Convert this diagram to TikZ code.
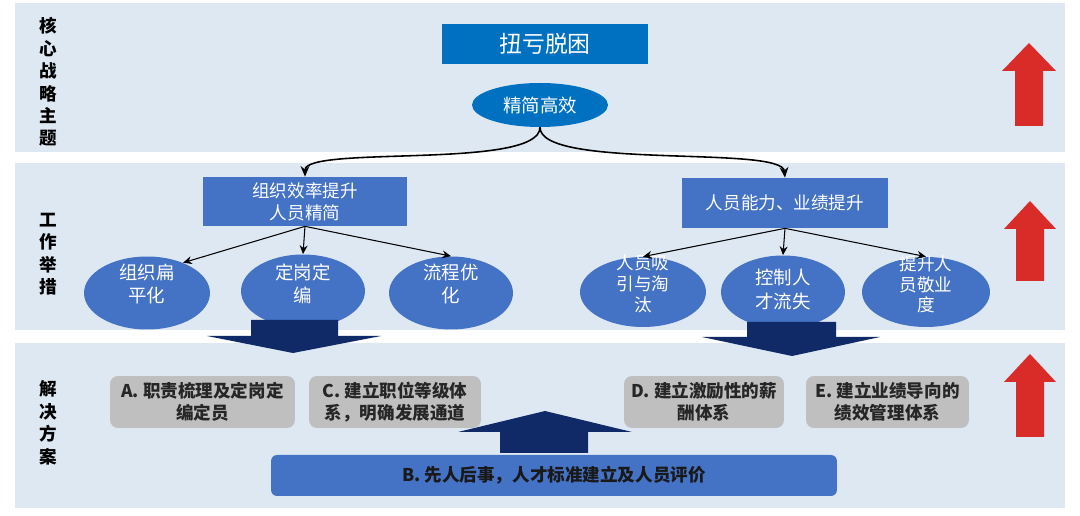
\documentclass[tikz,border=0pt]{standalone}
\usepackage{fontspec}
\setmainfont{Noto Sans CJK SC}
\usetikzlibrary{shapes.geometric,arrows.meta}
\definecolor{panelbg}{HTML}{DEE8F3}
\definecolor{topblue}{HTML}{0070C0}
\definecolor{midblue}{HTML}{4472C4}
\definecolor{navy}{HTML}{0F2A66}
\definecolor{grayfill}{HTML}{BFBFBF}
\definecolor{redarr}{HTML}{D92B27}
\definecolor{darktext}{HTML}{262626}
\tikzset{
  panel/.style={fill=panelbg, draw=none},
  sidelabel/.style={align=center, text=black, font=\bfseries\fontsize{10}{12.8}\selectfont},
  titlebox/.style={fill=topblue, text=white, minimum width=4.12cm, minimum height=0.8cm, inner sep=0pt, font=\fontsize{13}{15}\selectfont},
  topell/.style={ellipse, fill=topblue, text=white, minimum width=2.72cm, minimum height=0.88cm, inner sep=0pt, font=\fontsize{10.5}{12}\selectfont},
  bluebox/.style={fill=midblue, text=white, inner sep=0pt, align=center, font=\fontsize{10}{12.6}\selectfont},
  subell/.style={ellipse, fill=midblue, minimum width=2.52cm, minimum height=1.46cm, inner sep=0pt},
  twoline/.style={text=white, align=center, inner sep=0pt, font=\fontsize{10.5}{13.5}\selectfont},
  threeline/.style={text=white, align=center, inner sep=0pt, font=\fontsize{10}{11.8}\selectfont},
  graybox/.style={fill=grayfill, rounded corners=0.16cm, text=darktext, minimum width=3.5cm, minimum height=1.04cm, inner sep=0pt, align=center, font=\bfseries\fontsize{10}{12.6}\selectfont},
  bbox/.style={fill=midblue, rounded corners=0.12cm, text=black!90, minimum width=11.32cm, minimum height=0.82cm, inner sep=0pt, font=\bfseries\fontsize{10}{12}\selectfont},
  curvearrow/.style={-{Stealth[length=6pt,width=5pt]}, line width=0.9pt, black},
  thinarrow/.style={-{Stealth[length=5pt,width=4.5pt]}, line width=0.6pt, black},
  navyarrow/.style={fill=navy, draw=none},
  redarrow/.style={fill=redarr, draw=none}
}
\begin{document}
\begin{tikzpicture}[x=0.02cm,y=-0.02cm]
\useasboundingbox (0,0) rectangle (1080,516);
\fill[white] (0,0) rectangle (1080,516);
% panels
\path[panel] (15,3) rectangle (1065,152);
\path[panel] (15,163) rectangle (1065,330);
\path[panel] (15,343) rectangle (1065,508);
% side labels
\node[sidelabel] (lab1) at (48,82) {核\\心\\战\\略\\主\\题};
\node[sidelabel] (lab2) at (48,254) {工\\作\\举\\措};
\node[sidelabel] (lab3) at (48,423) {解\\决\\方\\案};
% top
\node[titlebox] (title) at (545,44) {扭亏脱困};
\node[topell] (core) at (540,105) {精简高效};
% level 2 boxes
\node[bluebox, minimum width=4.08cm, minimum height=0.98cm] (lb) at (305,201.5) {组织效率提升\\人员精简};
\node[bluebox, minimum width=4.12cm, minimum height=1.0cm] (rb) at (785,203) {人员能力、业绩提升};
% curved connectors
\draw[curvearrow] (core.south) .. controls (540,170) and (305,145) .. (lb.north);
\draw[curvearrow] (core.south) .. controls (540,170) and (782,145) .. (rb.north);
% sub ellipses
\node[subell] (e1) at (147,293) {};
\node[subell, minimum width=2.48cm] (e2) at (303,291) {};
\node[subell, minimum width=2.48cm] (e3) at (451,293) {};
\node[subell, minimum height=1.4cm] (e4) at (643,292) {};
\node[subell, minimum width=2.48cm] (e5) at (783,292) {};
\node[subell, minimum width=2.56cm, minimum height=1.4cm] (e6) at (926,292) {};
\node[twoline] (e1t) at (147,284) {组织扁\\平化};
\node[twoline] (e2t) at (303,284) {定岗定\\编};
\node[twoline] (e3t) at (451,284) {流程优\\化};
\node[threeline] (e4t) at (643,284) {人员吸\\引与淘\\汰};
\node[twoline] (e5t) at (783,289.5) {控制人\\才流失};
\node[threeline] (e6t) at (926,284.5) {提升人\\员敬业\\度};
\draw[thinarrow] (lb.south) -- (e1.40);
\draw[thinarrow] (lb.south) -- (e2.north);
\draw[thinarrow] (lb.south) -- (e3.north);
\draw[thinarrow] (rb.south) -- (e4.north);
\draw[thinarrow] (rb.south) -- (e5.north);
\draw[thinarrow] (rb.south) -- (e6.north);
% navy block arrows
\path[navyarrow] (251,320) -- (338,320) -- (338,336) -- (381,336) -- (293,353) -- (207,336) -- (251,336) -- cycle;
\path[navyarrow] (747,322) -- (836,322) -- (836,337) -- (880,337) -- (792,356) -- (702,337) -- (747,337) -- cycle;
\path[navyarrow] (500,453) -- (588,453) -- (588,432) -- (632,432) -- (545,411) -- (458,432) -- (500,432) -- cycle;
% solution boxes
\node[graybox, minimum width=3.7cm] (sa) at (202.5,402) {A. 职责梳理及定岗定\\编定员};
\node[graybox, minimum width=3.44cm] (sc) at (395,402) {C. 建立职位等级体\\系，明确发展通道};
\node[graybox, minimum width=3.2cm] (sd) at (704,402) {D. 建立激励性的薪\\酬体系};
\node[graybox, minimum width=3.26cm] (se) at (887.5,402) {E. 建立业绩导向的\\绩效管理体系};
\node[bbox] (sb) at (554,475.5) {B. 先人后事，人才标准建立及人员评价};
% red arrows
\path[redarrow] (1015,126) -- (1015,71) -- (1002,71) -- (1029,43) -- (1056,71) -- (1043,71) -- (1043,126) -- cycle;
\path[redarrow] (1016,281) -- (1016,229) -- (1004,229) -- (1030,201) -- (1056,229) -- (1044,229) -- (1044,281) -- cycle;
\path[redarrow] (1016,437) -- (1016,382) -- (1004,382) -- (1030,354) -- (1056,382) -- (1044,382) -- (1044,437) -- cycle;
\end{tikzpicture}
\end{document}
